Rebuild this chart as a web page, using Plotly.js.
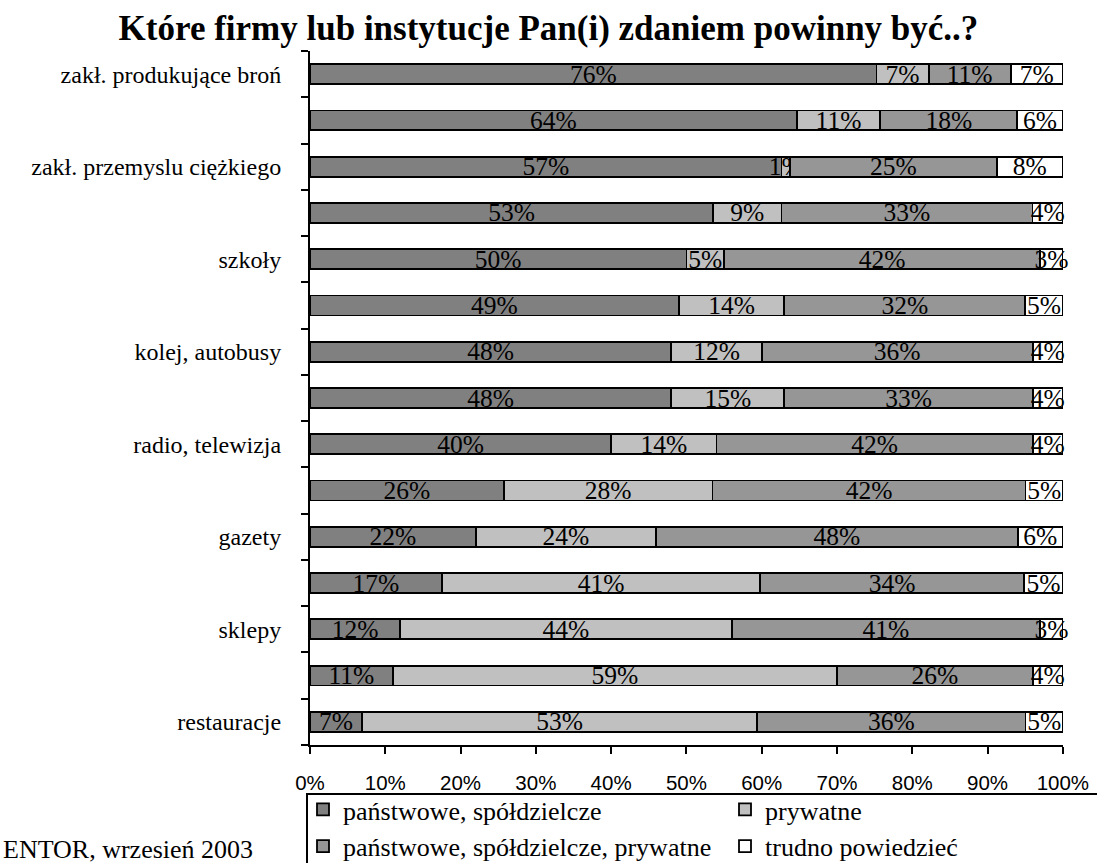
<!DOCTYPE html>
<html>
<head>
<meta charset="utf-8">
<script src="https://cdn.plot.ly/plotly-3.0.1.min.js"></script>
<style>html,body{margin:0;padding:0;background:#fff;}#chart{width:1097px;height:863px;}</style>
</head>
<body>
<div id="chart"></div>
<script>
const categoryLabels = ['zakł. produkujące broń', '', 'zakł. przemyslu ciężkiego', '', 'szkoły', '', 'kolej, autobusy', '', 'radio, telewizja', '', 'gazety', '', 'sklepy', '', 'restauracje'];
const seriesNames = ['państwowe, spółdzielcze', 'prywatne', 'państwowe, spółdzielcze, prywatne', 'trudno powiedzieć'];
const panstwowe = [76, 64, 57, 53, 50, 49, 48, 48, 40, 26, 22, 17, 12, 11, 7];
const prywatne = [7, 11, 1, 9, 5, 14, 12, 15, 14, 28, 24, 41, 44, 59, 53];
const mieszane = [11, 18, 25, 33, 42, 32, 36, 33, 42, 42, 48, 34, 41, 26, 36];
const trudno = [7, 6, 8, 4, 3, 5, 4, 4, 4, 5, 6, 5, 3, 4, 5];
const xTicks = [0, 10, 20, 30, 40, 50, 60, 70, 80, 90, 100];
const sourceText = 'ENTOR, wrzesień 2003';
const titleText = 'Które firmy lub instytucje Pan(i) zdaniem powinny być..?';

const colors = ['#808080', '#C0C0C0', '#969696', '#FFFFFF'];
const legendIds = ['legend', 'legend2', 'legend', 'legend2'];
const allSeries = [panstwowe, prywatne, mieszane, trudno];
const positions = categoryLabels.map((_, i) => i);

const serif = '"Liberation Serif", "Times New Roman", Times, serif';
const sans = '"Liberation Sans", Arial, sans-serif';
const traces = allSeries.map((vals, k) => ({
  type: 'bar',
  orientation: 'h',
  name: seriesNames[k],
  legend: legendIds[k],
  y: positions,
  x: vals,
  text: vals.map(v => v + '%'),
  textposition: 'inside',
  insidetextanchor: 'middle',
  textangle: 0,
  constraintext: 'none',
  cliponaxis: false,
  textfont: {family: serif, size: 25.5, color: '#000'},
  marker: {color: colors[k], line: {color: '#000', width: 1.8}},
  hoverinfo: 'none'
}));

const legendCommon = {
  orientation: 'v', xanchor: 'left', yanchor: 'top',
  y: (745 - 786) / 694, traceorder: 'normal',
  font: {family: serif, size: 26, color: '#000'},
  borderwidth: 0, bgcolor: 'rgba(0,0,0,0)', itemwidth: 30
};

const layout = {
  width: 1097, height: 863,
  margin: {l: 310, r: 34, t: 51, b: 118, autoexpand: false},
  paper_bgcolor: '#fff', plot_bgcolor: '#fff',
  barmode: 'stack',
  barnorm: 'percent',
  bargap: 0.57,
  uniformtext: {mode: 'show', minsize: 25.5},
  showlegend: true,
  title: {text: '<b>' + titleText + '</b>', font: {family: serif, size: 35, color: '#000'}, x: 0.5, xref: 'container', xanchor: 'center', yref: 'container', y: 0.968, yanchor: 'middle'},
  xaxis: {
    range: [0, 100.02], tickvals: xTicks, ticktext: xTicks.map(v => v + '%'),
    showgrid: false, zeroline: false, showline: true, linecolor: '#000', linewidth: 2,
    ticks: 'outside', ticklen: 7, tickwidth: 2, tickcolor: '#000', ticklabelstandoff: 11,
    tickfont: {family: sans, size: 20.5, color: '#000'},
    fixedrange: true
  },
  yaxis: {
    range: [14.5, -0.5],
    tickvals: positions, ticktext: categoryLabels,
    showgrid: false, zeroline: false, showline: true, linecolor: '#000', linewidth: 2,
    ticks: '', ticklabelstandoff: 22,
    tickfont: {family: serif, size: 24, color: '#000'},
    minor: {tick0: 0.5, dtick: 1, ticks: 'outside', ticklen: 7, tickwidth: 2, tickcolor: '#000', showgrid: false},
    fixedrange: true
  },
  legend: Object.assign({}, legendCommon, {x: (303 - 310) / 753}),
  legend2: Object.assign({}, legendCommon, {x: (725 - 310) / 753}),
  shapes: [{
    type: 'rect', xref: 'paper', yref: 'paper',
    x0: (307 - 310) / 753, x1: 1.1, y0: (745 - 794) / 694, y1: -0.25,
    line: {color: '#000', width: 2}, fillcolor: 'rgba(0,0,0,0)'
  }],
  annotations: [{
    text: sourceText, xref: 'paper', yref: 'paper', x: (1 - 310) / 753, y: (745 - 849) / 694,
    xanchor: 'left', yanchor: 'middle', showarrow: false,
    font: {family: serif, size: 26, color: '#000'}
  }]
};

Plotly.newPlot('chart', traces, layout, {displayModeBar: false, staticPlot: true});
</script>
</body>
</html>
